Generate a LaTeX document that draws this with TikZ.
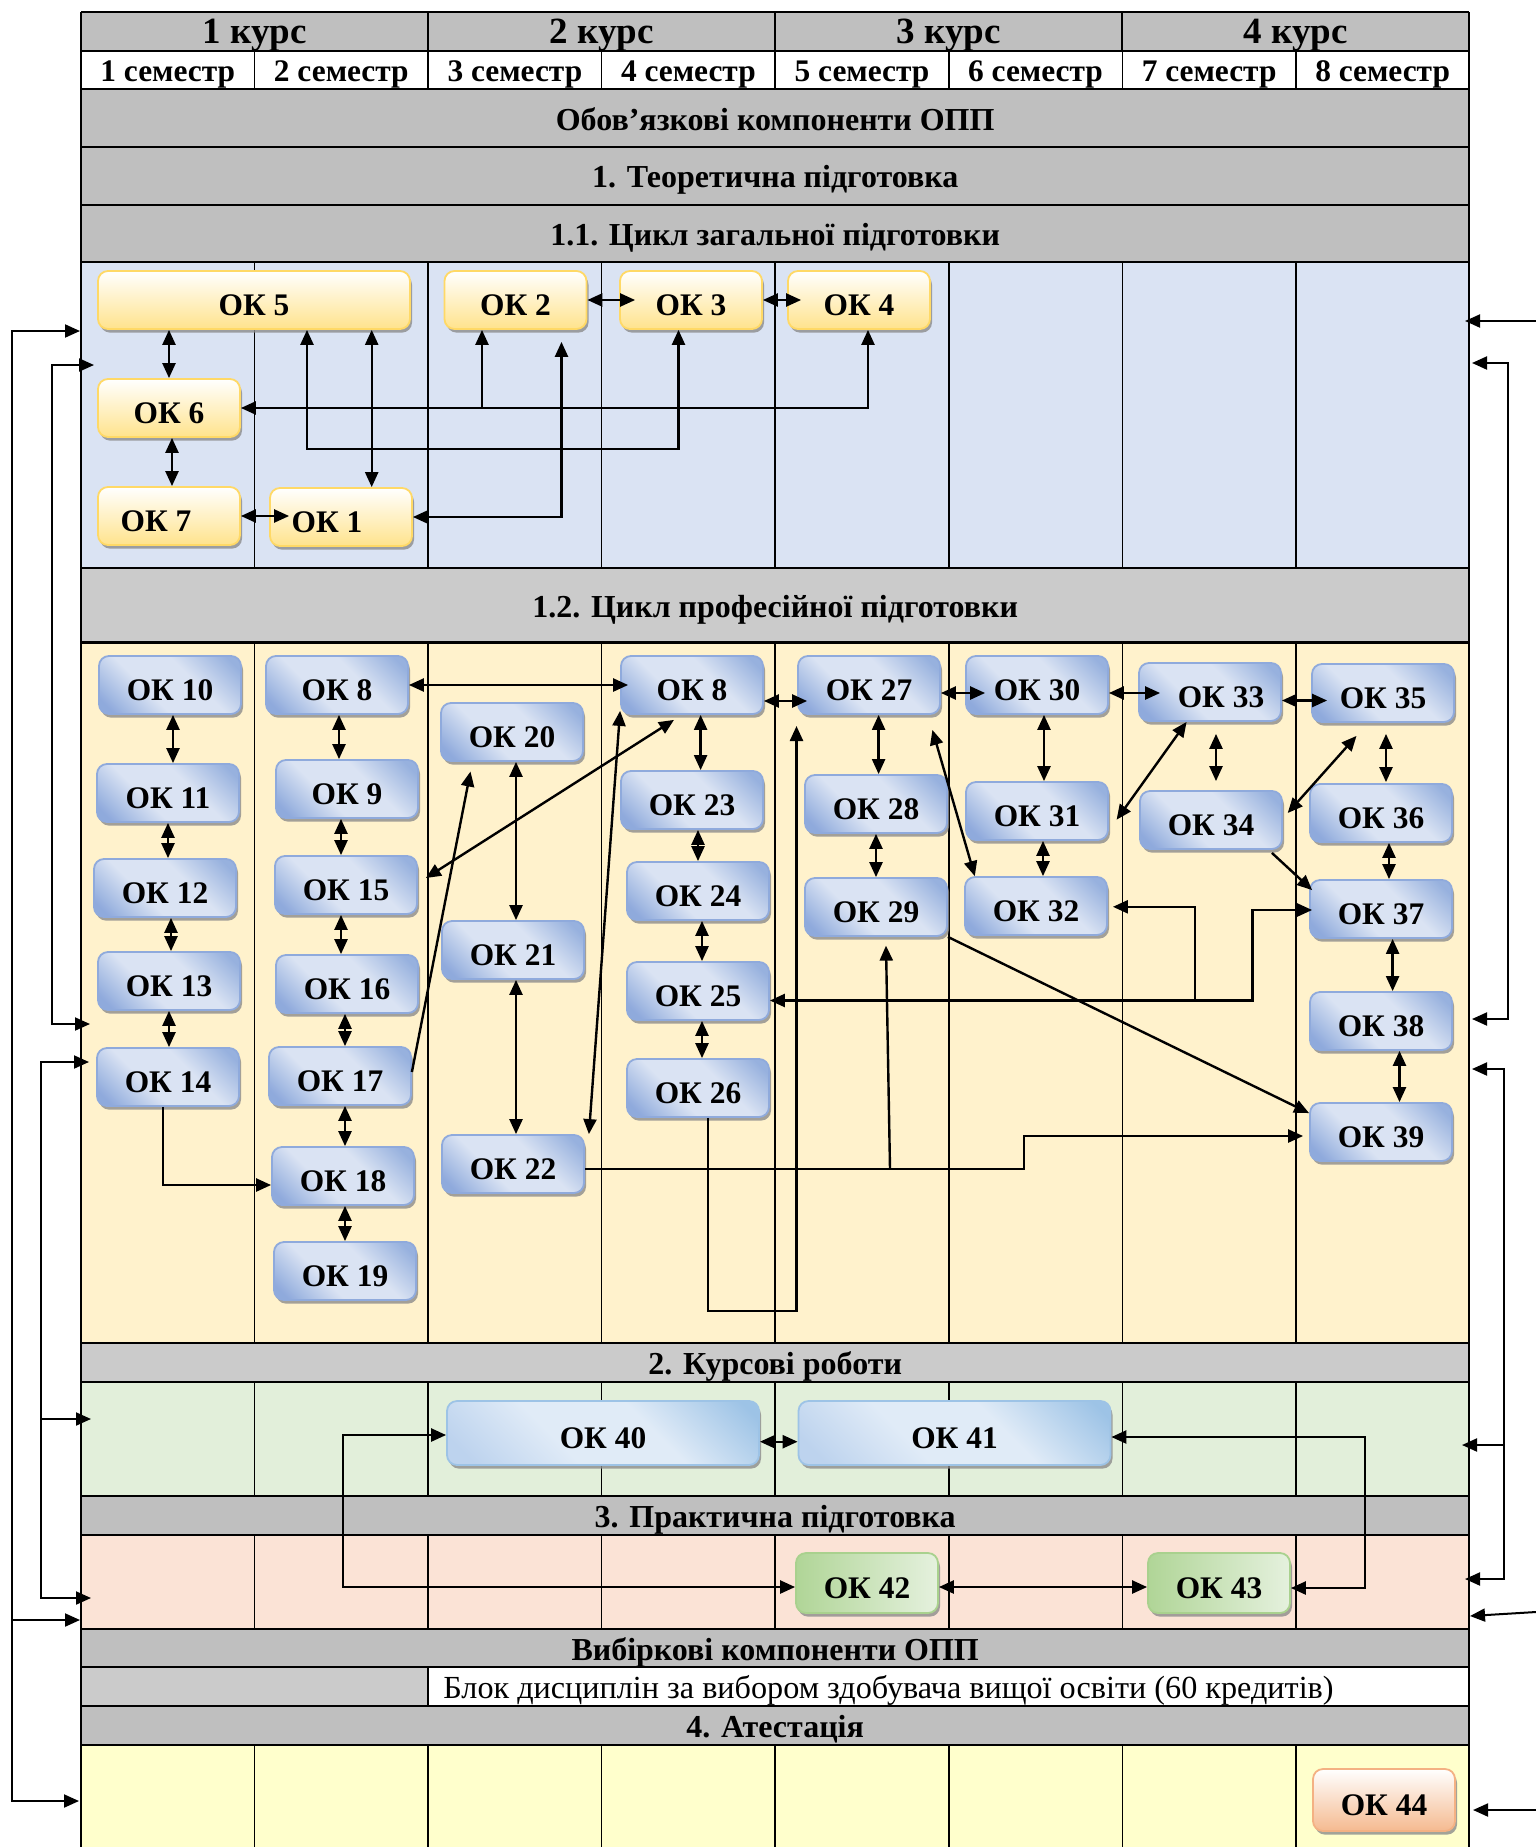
\documentclass[tikz,border=0pt]{standalone}
\usepackage{fontspec}
\setmainfont{Liberation Serif}
\usetikzlibrary{arrows.meta,shadows}
\definecolor{hdr}{HTML}{BFBFBF}
\definecolor{hdrl}{HTML}{CBCBCB}
\definecolor{blueA}{HTML}{DAE3F3}
\definecolor{yelA}{HTML}{FFF2CC}
\definecolor{grnA}{HTML}{E2EFDA}
\definecolor{pnkA}{HTML}{FBE3D6}
\definecolor{lyA}{HTML}{FFFFCC}
\definecolor{ybord}{HTML}{FFD966}
\definecolor{ybot}{HTML}{FFE38C}
\definecolor{bbord}{HTML}{8FAADC}
\definecolor{bdark}{HTML}{97B1DE}
\definecolor{bmid}{HTML}{DAE3F3}
\definecolor{bdark2}{HTML}{8FAADC}
\definecolor{lbord}{HTML}{9DC3E6}
\definecolor{ldark}{HTML}{9DC3E6}
\definecolor{lmid}{HTML}{E0EBF7}
\definecolor{lbot}{HTML}{BDD3EE}
\definecolor{gbord}{HTML}{A9D18E}
\definecolor{gdark}{HTML}{B0D597}
\definecolor{glight}{HTML}{E5F1DE}
\definecolor{obord}{HTML}{F4B183}
\definecolor{obot}{HTML}{F5BA90}
\pgfdeclareverticalshading{bsh}{100bp}{color(0bp)=(bdark2); color(20bp)=(bdark2); color(40bp)=(bmid); color(60bp)=(bmid); color(80bp)=(bdark); color(100bp)=(bdark)}
\pgfdeclareverticalshading{lsh}{100bp}{color(0bp)=(lbot); color(20bp)=(lbot); color(40bp)=(lmid); color(60bp)=(lmid); color(82bp)=(ldark); color(100bp)=(ldark)}
\begin{document}
\begin{tikzpicture}[x=0.5pt,y=-0.5pt,
  rowline/.style={line width=1.1pt},
  colline/.style={line width=0.8pt},
  hfont/.style={font=\bfseries\fontsize{16}{18}\selectfont, inner sep=0pt},
  kfont/.style={font=\bfseries\fontsize{18.5}{21}\selectfont, inner sep=0pt},
  sfont/.style={font=\bfseries\fontsize{15.7}{18}\selectfont, inner sep=0pt},
  okbase/.style={rounded corners=5pt, inner sep=0pt, line width=0.9pt,
     font=\bfseries\fontsize{15.7}{18}\selectfont, text height=15pt, text depth=0pt,
     minimum width=71pt, minimum height=29pt,
     drop shadow={shadow xshift=1pt, shadow yshift=-1.8pt, fill=black!45, opacity=0.8}},
  ylw/.style={okbase, draw=ybord, top color=white, bottom color=ybot},
  blu/.style={okbase, draw=bbord, shading=bsh, shading angle=-45},
  lbl/.style={okbase, draw=lbord, shading=lsh, shading angle=-45,
     minimum width=156pt, minimum height=32pt},
  grn/.style={okbase, draw=gbord, left color=gdark, right color=glight, minimum height=30pt},
  org/.style={okbase, draw=obord, top color=white, bottom color=obot, minimum height=31pt},
  tipA/.tip={Triangle[length=7.5pt,width=6.5pt]},
  arr/.style={-tipA, line width=1.2pt},
  dbl/.style={tipA-tipA, line width=1.2pt},
  sarr/.style={-tipA, line width=1pt},
  sdbl/.style={tipA-tipA, line width=1pt}
]
\useasboundingbox (0,0) rectangle (1536,1847);

% ---------- fills ----------
\fill[hdr] (81,12) rectangle (1469,50.7);
\fill[white] (81,50.7) rectangle (1469,88.7);
\fill[hdr] (81,88.7) rectangle (1469,262);
\fill[blueA] (81,262) rectangle (1469,568.3);
\fill[hdrl] (81,568.3) rectangle (1469,642.5);
\fill[yelA] (81,642.5) rectangle (1469,1342.7);
\fill[hdrl] (81,1342.7) rectangle (1469,1381.7);
\fill[grnA] (81,1381.7) rectangle (1469,1495.7);
\fill[hdr] (81,1495.7) rectangle (1469,1534.7);
\fill[pnkA] (81,1534.7) rectangle (1469,1628.7);
\fill[hdr] (81,1628.7) rectangle (1469,1666.7);
\fill[hdrl] (81,1666.7) rectangle (428.1,1706);
\fill[white] (428.1,1666.7) rectangle (1469,1706);
\fill[hdr] (81,1706) rectangle (1469,1744.7);
\fill[lyA] (81,1744.7) rectangle (1469,1847);

% ---------- column lines ----------
\foreach \i in {1,...,7}{
  \pgfmathsetmacro{\xx}{81+173.55*\i}
  \draw[colline] (\xx,50.7) -- (\xx,88.7);
  \draw[colline] (\xx,262) -- (\xx,568.3);
  \draw[colline] (\xx,642.5) -- (\xx,1342.7);
  \draw[colline] (\xx,1381.7) -- (\xx,1495.7);
  \draw[colline] (\xx,1534.7) -- (\xx,1628.7);
  \draw[colline] (\xx,1744.7) -- (\xx,1847);
}
\foreach \i in {2,4,6}{
  \pgfmathsetmacro{\xx}{81+173.55*\i}
  \draw[rowline] (\xx,12) -- (\xx,50.7);
}
\draw[colline] (428.1,1666.7) -- (428.1,1706);

% ---------- row lines ----------
\foreach \yy in {12,50.7,88.7,146.7,204.7,262,568.3,642.5,1342.7,1381.7,1495.7,1534.7,1628.7,1666.7,1706,1744.7}{
  \draw[rowline] (81,\yy) -- (1469,\yy);
}
\draw[line width=1.2pt] (81,12) -- (81,1847);
\draw[line width=1.2pt] (1469,12) -- (1469,1847);

% ---------- header texts ----------
\node[kfont] (k1) at (254.6,35.3) {1 курс};
\node[kfont] (k2) at (601.7,35.3) {2 курс};
\node[kfont] (k3) at (948.8,35.3) {3 курс};
\node[kfont] (k4) at (1295.9,35.3) {4 курс};
\node[sfont] (s1) at (167.8,74.2) {1 семестр};
\node[sfont] (s2) at (341.3,74.2) {2 семестр};
\node[sfont] (s3) at (514.9,74.2) {3 семестр};
\node[sfont] (s4) at (688.4,74.2) {4 семестр};
\node[sfont] (s5) at (862.0,74.2) {5 семестр};
\node[sfont] (s6) at (1035.5,74.2) {6 семестр};
\node[sfont] (s7) at (1209.1,74.2) {7 семестр};
\node[sfont] (s8) at (1382.6,74.2) {8 семестр};
\node[hfont] (h0) at (775.2,119.2) {Обов’язкові компоненти ОПП};
\node[hfont] (h1) at (775.2,180.2) {1. Теоретична підготовка};
\node[hfont] (h11) at (775.2,237.9) {1.1. Цикл загальної підготовки};
\node[hfont] (h12) at (775.2,609.9) {1.2. Цикл професійної підготовки};
\node[hfont] (h2) at (775.2,1366.7) {2. Курсові роботи};
\node[hfont] (h3) at (775.2,1519.7) {3. Практична підготовка};
\node[hfont] (hv) at (775.2,1652.2) {Вибіркові компоненти ОПП};
\node[font=\fontsize{16.1}{18}\selectfont, inner sep=0pt, anchor=west] (hb) at (443,1690.4) {Блок дисциплін за вибором здобувача вищої освіти (60 кредитів)};
\node[hfont] (h4) at (775.2,1729.4) {4. Атестація};

% ---------- 1.1 nodes ----------
\node[ylw, minimum width=156pt] (ok5) at (254,300) {ОК 5};
\node[ylw] (ok2) at (515.5,300) {ОК 2};
\node[ylw] (ok3) at (691,300) {ОК 3};
\node[ylw] (ok4) at (859,300) {ОК 4};
\node[ylw] (ok6) at (169,408) {ОК 6};
\node[ylw] (ok7) at (169,516) {ОК 7\hspace*{13pt}};
\node[ylw] (ok1) at (341,517) {ОК 1\hspace*{14pt}};

% ---------- 1.2 nodes ----------
\node[blu] (ok10) at (170,685) {ОК 10};
\node[blu] (ok11) at (168,793) {ОК 11};
\node[blu] (ok12) at (165,888) {ОК 12};
\node[blu] (ok13) at (169,981) {ОК 13};
\node[blu] (ok14) at (168,1077) {ОК 14};
\node[blu] (ok8a) at (337,685) {ОК 8};
\node[blu] (ok9) at (347,789) {ОК 9};
\node[blu] (ok15) at (346,885) {ОК 15};
\node[blu] (ok16) at (347,984) {ОК 16};
\node[blu] (ok17) at (340,1076) {ОК 17};
\node[blu] (ok18) at (343,1176) {ОК 18};
\node[blu] (ok19) at (345,1271) {ОК 19};
\node[blu] (ok20) at (512,732) {ОК 20};
\node[blu] (ok21) at (513,950) {ОК 21};
\node[blu] (ok22) at (513,1164) {ОК 22};
\node[blu] (ok8b) at (692,685) {ОК 8};
\node[blu] (ok23) at (692,800) {ОК 23};
\node[blu] (ok24) at (698,891) {ОК 24};
\node[blu] (ok25) at (698,991) {ОК 25};
\node[blu] (ok26) at (698,1088) {ОК 26};
\node[blu] (ok27) at (869,685) {ОК 27};
\node[blu] (ok28) at (876,804) {ОК 28};
\node[blu] (ok29) at (876,907) {ОК 29};
\node[blu] (ok30) at (1037,685) {ОК 30};
\node[blu] (ok31) at (1037,811) {ОК 31};
\node[blu] (ok32) at (1036,906) {ОК 32};
\node[blu] (ok33) at (1210,692) {\hspace*{11pt}ОК 33};
\node[blu] (ok34) at (1211,820) {ОК 34};
\node[blu] (ok35) at (1383,693) {ОК 35};
\node[blu] (ok36) at (1381,813) {ОК 36};
\node[blu] (ok37) at (1381,909) {ОК 37};
\node[blu] (ok38) at (1381,1021) {ОК 38};
\node[blu] (ok39) at (1381,1132) {ОК 39};

% ---------- 2, 3, 4 nodes ----------
\node[lbl] (ok40) at (603,1433) {ОК 40};
\node[lbl] (ok41) at (954.5,1433) {ОК 41};
\node[grn] (ok42) at (867,1583) {ОК 42};
\node[grn] (ok43) at (1219,1583) {ОК 43};
\node[org] (ok44) at (1384,1800) {ОК 44};

% ---------- 1.1 connectors ----------
\draw[dbl] (ok5.south -| ok6.north) -- (ok6.north);
\draw[dbl] ([xshift=1.5pt]ok6.south) -- ([xshift=1.5pt]ok7.north);
\draw[dbl] (ok7.east) -- ([xshift=10pt]ok1.west |- ok7.east);
\draw[dbl] (ok6.east) -| ([xshift=4.5pt]ok4.south);
\coordinate (k2b) at (482,408);
\draw[arr] (k2b) -- (k2b |- ok2.south);
\coordinate (kk1) at (307,449);
\draw[dbl] (ok5.south -| kk1) -- (kk1) -| ([xshift=-6.25pt]ok3.south);
\draw[dbl] ([xshift=15.35pt]ok1.north) -- ([xshift=15.35pt]ok1.north |- ok5.south);
\draw[dbl] (ok1.east) -| ([xshift=23pt,yshift=-6pt]ok2.south);
\draw[dbl] (ok2.east) -- ([xshift=8pt]ok3.west);
\draw[dbl] (ok3.east) -- ([xshift=7pt]ok4.west);

% ---------- 1.2 connectors ----------
\draw[dbl] ([xshift=1.5pt]ok10.south) -- ([xshift=1.5pt]ok10.south |- ok11.north);
\draw[dbl] (ok11.south) -- (ok11.south |- ok12.north);
\draw[dbl] ([xshift=3pt]ok12.south) -- ([xshift=3pt]ok12.south |- ok13.north);
\draw[dbl] (ok13.south) -- (ok13.south |- ok14.north);
\draw[arr] ([xshift=-2.5pt]ok14.south) |- ([yshift=-4.5pt]ok18.west);
\draw[dbl] ([xshift=1pt]ok8a.south) -- ([xshift=1pt]ok8a.south |- ok9.north);
\draw[dbl] ([xshift=-3pt]ok9.south) -- ([xshift=-3pt]ok9.south |- ok15.north);
\draw[dbl] ([xshift=-2.5pt]ok15.south) -- ([xshift=-2.5pt]ok15.south |- ok16.north);
\draw[dbl] ([xshift=-1pt]ok16.south) -- ([xshift=-1pt]ok16.south |- ok17.north);
\draw[dbl] ([xshift=2.5pt]ok17.south) -- ([xshift=2.5pt]ok17.south |- ok18.north);
\draw[dbl] ([xshift=1pt]ok18.south) -- ([xshift=1pt]ok18.south |- ok19.north);
\draw[dbl] (ok8a.east) -- ([xshift=4pt]ok8b.west |- ok8a.east);
\draw[arr] ([yshift=2pt]ok17.east) -- ([xshift=-20.75pt,yshift=-4.8pt]ok20.south);
\draw[dbl] ([xshift=2pt]ok20.south) -- ([xshift=2pt]ok20.south |- ok21.north);
\draw[dbl] ([xshift=1.5pt]ok21.south) -- ([xshift=1.5pt]ok21.south |- ok22.north);
\draw[dbl] ([xshift=-9pt,yshift=-2.5pt]ok8b.south) -- ([xshift=4pt,yshift=3.5pt]ok15.east);
\draw[dbl] ([xshift=2pt]ok22.north east) -- ([yshift=2pt]ok8b.south west);
\coordinate (j1) at (1024,1169);
\coordinate (j2) at (1024,1136);
\coordinate (j3) at (890,1169);
\draw[arr] ([yshift=-2.5pt]ok22.east) -- (j1) -- (j2) -- ([xshift=-3pt]ok39.west |- j2);
\draw[arr] (j3) -- ([xshift=5pt,yshift=-4.35pt]ok29.south);
\coordinate (l1) at (796.5,1311);
\coordinate (l2) at (796.5,726);
\draw[arr] ([xshift=5pt]ok26.south) |- (l1) -- (l2);
\draw[dbl] ([xshift=4.3pt]ok8b.south) -- ([xshift=4.3pt]ok8b.south |- ok23.north);
\draw[dbl] (ok24.north |- ok23.south) -- (ok24.north);
\draw[dbl] ([xshift=2pt]ok24.south) -- ([xshift=2pt]ok24.south |- ok25.north);
\draw[dbl] ([xshift=2pt]ok25.south) -- ([xshift=2pt]ok25.south |- ok26.north);
\draw[dbl] ([yshift=-8pt]ok8b.east) -- ([xshift=5pt,yshift=-8pt]ok27.west);
\draw[dbl] ([xshift=4.8pt]ok27.south) -- ([xshift=4.8pt]ok27.south |- ok28.north);
\draw[dbl] (ok28.south) -- (ok28.south |- ok29.north);
\draw[dbl] ([xshift=-4.25pt,yshift=-7.5pt]ok27.south east) -- ([xshift=5.35pt]ok32.north west);
\draw[arr] (ok29.south east) -- ([yshift=-5.5pt]ok39.north west);
\draw[dbl] ([yshift=-4pt]ok27.east) -- ([xshift=10pt,yshift=-4pt]ok30.west);
\draw[dbl] ([yshift=-4pt]ok30.east) -- ([xshift=11pt,yshift=-0.5pt]ok33.west);
\draw[dbl] ([yshift=-4.25pt]ok33.east) -- ([xshift=8pt,yshift=-3.75pt]ok35.west);
\draw[dbl] ([xshift=3.5pt]ok30.south) -- ([xshift=3.5pt]ok30.south |- ok31.north);
\draw[dbl] ([xshift=3pt]ok31.south) -- ([xshift=3pt]ok31.south |- ok32.north);
\draw[dbl] ([xshift=-11.7pt]ok33.south) -- ([xshift=3.85pt,yshift=-4.35pt]ok31.east);
\draw[dbl] ([xshift=3pt,yshift=-6pt]ok33.south) -- ([xshift=2.5pt,yshift=4.5pt]ok34.north);
\draw[dbl] ([xshift=-13.25pt,yshift=-6.5pt]ok35.south) -- ([xshift=2.4pt,yshift=3.5pt]ok34.east);
\draw[dbl] ([xshift=1.5pt,yshift=-5.5pt]ok35.south) -- ([xshift=2.5pt,yshift=0.5pt]ok36.north);
\draw[dbl] ([xshift=4pt]ok36.south) -- ([xshift=4pt]ok36.south |- ok37.north);
\draw[arr] ([xshift=-5.5pt,yshift=-1.5pt]ok34.south east) -- ([xshift=1.5pt,yshift=-5.5pt]ok37.north west);
\draw[dbl] ([xshift=5.8pt]ok37.south) -- ([xshift=5.8pt]ok37.south |- ok38.north);
\draw[dbl] ([xshift=9.25pt]ok38.south) -- ([xshift=9.25pt]ok38.south |- ok39.north);
\coordinate (m1) at (1252.6,1000.5);
\coordinate (m2) at (1252.6,910);
\coordinate (m3) at (1194.7,1000.5);
\coordinate (m4) at (1194.7,906.8);
\draw[dbl] ([yshift=-4.75pt]ok25.east) -- (m1) -- (m2) -- ([xshift=1.5pt]ok37.west |- m2);
\draw[arr] (m3) -- (m4) -- ([xshift=2.5pt]ok32.east |- m4);

% ---------- 2, 3 connectors ----------
\draw[dbl] ([yshift=-4.35pt]ok40.east) -- ([yshift=-4.35pt]ok41.west);
\coordinate (n1) at (343,1587);
\coordinate (n2) at (1365,1588);
\draw[dbl] ([yshift=-1pt]ok40.west) -| (n1) -- (ok42.west |- n1);
\draw[dbl] ([yshift=-2pt]ok41.east) -| (n2) -- (ok43.east |- n2);
\draw[dbl] (ok42.east |- n1) -- (ok43.west |- n1);

% ---------- side lines ----------
\coordinate (T1) at (80,331);
\coordinate (La) at (12,331);
\coordinate (Lb) at (12,1801);
\coordinate (T3) at (79,1801);
\coordinate (Lc) at (12,1620);
\coordinate (T2) at (80,1620);
\draw[sdbl] (T1) -- (La) -- (Lb) -- (T3);
\draw[sarr] (Lc) -- (T2);
\coordinate (T4) at (94,365);
\coordinate (Ld) at (52,365);
\coordinate (Le) at (52,1024);
\coordinate (T5) at (90,1024);
\draw[sdbl] (T4) -- (Ld) -- (Le) -- (T5);
\coordinate (T6) at (89,1062);
\coordinate (Lf) at (41,1062);
\coordinate (Lg) at (41,1598);
\coordinate (T8) at (91,1598);
\coordinate (Lh) at (41,1419);
\coordinate (T7) at (91,1419);
\draw[sdbl] (T6) -- (Lf) -- (Lg) -- (T8);
\draw[sarr] (Lh) -- (T7);

\coordinate (Ra) at (1536,321);
\coordinate (R1) at (1465,321);
\draw[sarr] (Ra) -- (R1);
\coordinate (R2) at (1472,363);
\coordinate (Rb) at (1508,363);
\coordinate (Rc) at (1508,1019);
\coordinate (R3) at (1472,1019);
\draw[sdbl] (R2) -- (Rb) -- (Rc) -- (R3);
\coordinate (R4) at (1472,1069);
\coordinate (Rd) at (1504,1069);
\coordinate (Re) at (1504,1579);
\coordinate (R6) at (1465,1579);
\coordinate (Rf) at (1504,1445);
\coordinate (R5) at (1462,1445);
\draw[sdbl] (R4) -- (Rd) -- (Re) -- (R6);
\draw[sarr] (Rf) -- (R5);
\coordinate (Rg) at (1536,1612);
\coordinate (R7) at (1470,1616);
\draw[sarr] (Rg) -- (R7);
\coordinate (Rh) at (1536,1810);
\coordinate (R8) at (1473,1810);
\draw[sarr] (Rh) -- (R8);
\end{tikzpicture}
\end{document}
